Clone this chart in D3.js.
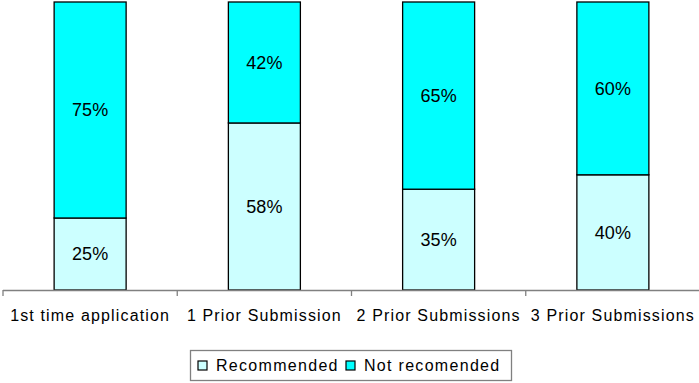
<!DOCTYPE html>
<html>
<head>
<meta charset="utf-8">
<script src="https://cdn.jsdelivr.net/npm/d3@7"></script>
<style>
  body { margin: 0; background: #fff; }
  svg { display: block; font-family: "Liberation Sans", Arial, sans-serif; }
</style>
</head>
<body>
<div id="chart"></div>
<script>
var width = 699;
var height = 383;

// data
var categories = ['1st time application', '1 Prior Submission', '2 Prior Submissions', '3 Prior Submissions'];
var recommended = [25, 58, 35, 40];
var notRecommended = [75, 42, 65, 60];
var seriesNames = ['Recommended', 'Not recomended'];
var seriesColors = ['#ccffff', '#00ffff'];

var svg = d3.select('#chart').append('svg').attr('width', width).attr('height', height);

var x = d3.scaleBand().domain(categories).range([3, 700]).padding(0);
var y = d3.scaleLinear().domain([0, 100]).range([290, 2]);
var barW = 72;

var rows = categories.map(function(c, i) {
	return { cat: c, Recommended: recommended[i], 'Not recomended': notRecommended[i] };
});
var stack = d3.stack().keys(seriesNames)(rows);

stack.forEach(function(layer, li) {
	var g = svg.append('g');
	g.selectAll('rect').data(layer).enter().append('rect')
		.attr('x', function(d) { return x(d.data.cat) + x.bandwidth() / 2 - barW / 2; })
		.attr('y', function(d) { return y(d[1]); })
		.attr('width', barW)
		.attr('height', function(d) { return y(d[0]) - y(d[1]); })
		.attr('fill', seriesColors[li])
		.attr('stroke', '#000')
		.attr('stroke-width', 1.3);

	g.selectAll('text').data(layer).enter().append('text')
		.attr('x', function(d) { return x(d.data.cat) + x.bandwidth() / 2; })
		.attr('y', function(d) { return (y(d[0]) + y(d[1])) / 2; })
		.attr('dy', '0.36em')
		.attr('text-anchor', 'middle')
		.attr('font-size', 18)
		.attr('fill', '#000')
		.text(function(d) { return (d[1] - d[0]) + '%'; });
});

// x axis
var axis = svg.append('g');
axis.append('line')
	.attr('x1', 3).attr('x2', 700).attr('y1', 290.5).attr('y2', 290.5)
	.attr('stroke', '#808080').attr('stroke-width', 1.3);

var tickPos = categories.map(function(c) { return x(c); }).concat([x.range()[1]]);
axis.selectAll('line.tick').data(tickPos).enter().append('line')
	.attr('class', 'tick')
	.attr('x1', function(d) { return d; }).attr('x2', function(d) { return d; })
	.attr('y1', 290).attr('y2', 296)
	.attr('stroke', '#808080').attr('stroke-width', 1.3);

axis.selectAll('text').data(categories).enter().append('text')
	.attr('x', function(d) { return x(d) + x.bandwidth() / 2; })
	.attr('y', 321)
	.attr('text-anchor', 'middle')
	.attr('font-size', 16)
	.attr('letter-spacing', 1.15)
	.attr('fill', '#000')
	.text(function(d) { return d; });

// legend
var legend = svg.append('g');
legend.append('rect')
	.attr('x', 190.5).attr('y', 350.5).attr('width', 321).attr('height', 30)
	.attr('fill', '#fff').attr('stroke', '#808080').attr('stroke-width', 1.3);

var legX = [198, 346];
seriesNames.forEach(function(name, i) {
	legend.append('rect')
		.attr('x', legX[i]).attr('y', 361).attr('width', 9).attr('height', 9)
		.attr('fill', seriesColors[i]).attr('stroke', '#000').attr('stroke-width', 1.2);
	legend.append('text')
		.attr('x', legX[i] + 18).attr('y', 371)
		.attr('font-size', 16)
		.attr('letter-spacing', 1.3)
		.attr('fill', '#000')
		.text(name);
});
</script>
</body>
</html>
